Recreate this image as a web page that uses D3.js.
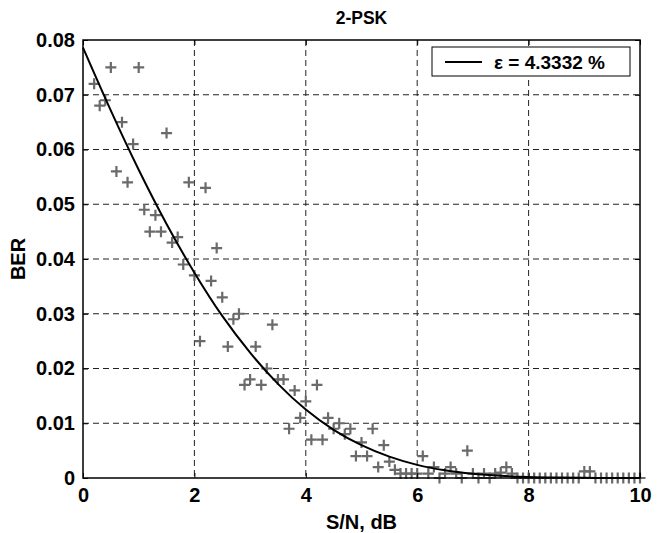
<!DOCTYPE html>
<html><head><meta charset="utf-8">
<script src="https://cdn.jsdelivr.net/npm/d3@7/dist/d3.min.js"></script>
<style>
html,body{margin:0;padding:0;background:#fff;}
text{font-family:"Liberation Sans",Arial,sans-serif;font-weight:bold;}
</style></head>
<body><svg id="c" width="661" height="533"></svg>
<script>
// Measured BER points (S/N in dB from 0.2 to 10 in 0.1 steps)
const snrStart = 0.2, snrStep = 0.1;
const berMeasured = [
 0.072,0.068,0.069,0.075,0.056,0.065,0.054,0.061,0.075,
 0.049,0.045,0.048,0.045,0.063,0.043,0.044,0.039,0.054,0.037,
 0.025,0.053,0.036,0.042,0.033,0.024,0.029,0.030,0.017,0.018,
 0.024,0.017,0.020,0.028,0.018,0.018,0.009,0.016,0.011,0.014,
 0.007,0.017,0.007,0.011,0.009,0.010,0.008,0.009,0.004,0.0065,
 0.004,0.009,0.002,0.006,0.003,0.0015,0.0008,0.0008,0.0008,0.0008,
 0.004,0.0008,0.002,0,0.0008,0.002,0.0008,0,0.005,0.0008,
 0,0.0008,0,0.0008,0.001,0.002,0.0008,0,0,0,
 0,0,0,0,0,0,0,0,0,0.0012,
 0.0012,0,0,0,0,0,0,0,0,0
];
// Fitted curve
const curveSnr = [0,0.5,1,1.5,2,2.5,3,3.5,4,4.5,5,5.5,6,6.5,7,7.5,8,8.5,9,9.5,10];
const curveBer = [0.0786,0.0671,0.0563,0.0464,0.0375,0.0296,0.0229,0.0172,0.0125,0.0088,0.0060,0.0039,0.0024,0.0014,0.00077,0.0004,0.00019,0.00008,0.00003,0.00001,0.000004];
const xTicks = [0,2,4,6,8,10];
const yTicks = [0,0.01,0.02,0.03,0.04,0.05,0.06,0.07,0.08];
const titleText = "2-PSK", xLabel = "S/N, dB", yLabel = "BER", legendText = "ε = 4.3332 %";

const svg = d3.select("#c");
const L = 83, T = 40, W = 557, H = 438;
const x = d3.scaleLinear().domain([0,10]).range([L, L+W]);
const y = d3.scaleLinear().domain([0,0.08]).range([T+H, T]);
const g = svg.append("g");

// grid
g.selectAll(".vg").data(xTicks.slice(1,-1)).join("line")
 .attr("x1",d=>x(d)).attr("x2",d=>x(d)).attr("y1",T).attr("y2",T+H)
 .attr("stroke","#222").attr("stroke-width",1).attr("stroke-dasharray","6,4");
g.selectAll(".hg").data(yTicks.slice(1,-1)).join("line")
 .attr("x1",L).attr("x2",L+W).attr("y1",d=>y(d)).attr("y2",d=>y(d))
 .attr("stroke","#222").attr("stroke-width",1).attr("stroke-dasharray","6,4");

// markers
const pts = berMeasured.map((v,i)=>({s: +(snrStart + i*snrStep).toFixed(1), v}));
const ms = 5.5;
const mk = g.append("g").attr("stroke","#6a6a6a").attr("stroke-width",2.2).attr("fill","none");
mk.selectAll("path").data(pts).join("path")
 .attr("d",d=>{const cx=x(d.s), cy=y(d.v); return `M${cx-ms},${cy}H${cx+ms}M${cx},${cy-ms}V${cy+ms}`;});

// curve
const cdata = curveSnr.map((s,i)=>[s,curveBer[i]]);
g.append("path").datum(cdata)
 .attr("d", d3.line().x(d=>x(d[0])).y(d=>y(d[1])).curve(d3.curveMonotoneX))
 .attr("fill","none").attr("stroke","#000").attr("stroke-width",2);

// axes
const ax = d3.axisBottom(x).tickValues(xTicks).tickSize(-5).tickPadding(10).tickFormat(d3.format("d"));
const ay = d3.axisLeft(y).tickValues(yTicks).tickSize(-5).tickPadding(8).tickFormat(d=>d===0?"0":d3.format(".2f")(d));
const gx = svg.append("g").attr("transform",`translate(0,${T+H})`).call(ax);
const gy = svg.append("g").attr("transform",`translate(${L},0)`).call(ay);
svg.append("g").attr("transform",`translate(0,${T})`).call(d3.axisTop(x).tickValues(xTicks).tickSize(-5).tickFormat(""));
svg.append("g").attr("transform",`translate(${L+W},0)`).call(d3.axisRight(y).tickValues(yTicks).tickSize(-5).tickFormat(""));
svg.selectAll(".domain").remove();
svg.selectAll(".tick line").attr("stroke","#000").attr("stroke-width",1);
svg.selectAll(".tick text").attr("font-size",20).attr("font-family","Liberation Sans, Arial, sans-serif").attr("font-weight","bold").attr("fill","#000");
gx.selectAll(".tick text").attr("dy","0.71em");

svg.append("rect").attr("x",L).attr("y",T).attr("width",W).attr("height",H)
 .attr("fill","none").attr("stroke","#000").attr("stroke-width",1.5);

// labels
svg.append("text").attr("x",L+W/2).attr("y",24).attr("text-anchor","middle").attr("font-size",17.5).text(titleText);
svg.append("text").attr("x",L+W/2).attr("y",529).attr("text-anchor","middle").attr("font-size",20).text(xLabel);
svg.append("text").attr("transform",`translate(25,${T+H/2}) rotate(-90)`).attr("text-anchor","middle").attr("font-size",20).text(yLabel);

// legend
const lg = svg.append("g");
lg.append("rect").attr("x",432).attr("y",47).attr("width",198).attr("height",29)
 .attr("fill","#fff").attr("stroke","#000").attr("stroke-width",1);
lg.append("line").attr("x1",445).attr("x2",482).attr("y1",62).attr("y2",62).attr("stroke","#000").attr("stroke-width",2);
lg.append("text").attr("x",494).attr("y",69).attr("font-size",19).text(legendText);
</script></body></html>
